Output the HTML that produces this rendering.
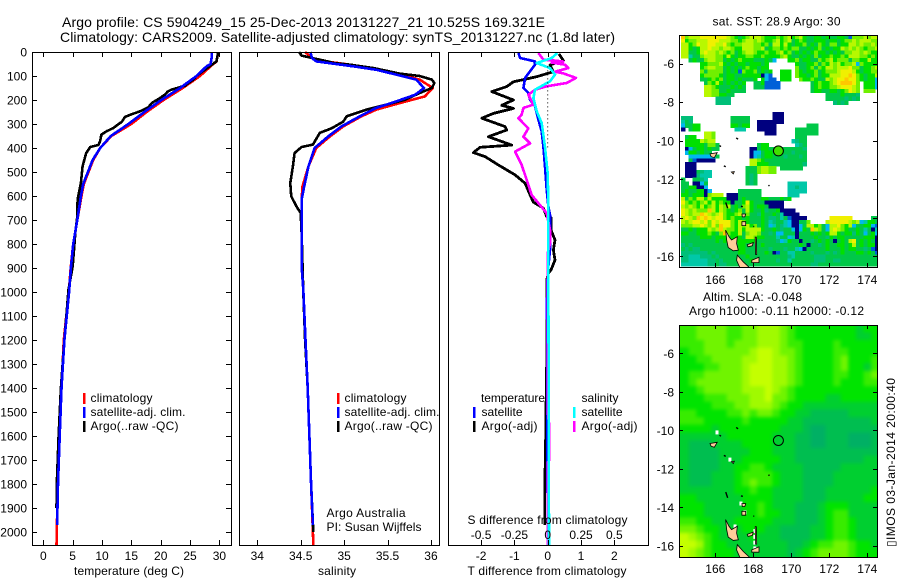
<!DOCTYPE html>
<html lang="en">
<head>
<meta charset="utf-8">
<title>Argo profile</title>
<style>
html,body{margin:0;padding:0;background:#fff;}
svg{display:block;}
text{font-family:"Liberation Sans",sans-serif;font-size:12px;fill:#000;}
.t{font-size:14px;}
</style>
</head>
<body>
<svg id="chart" width="900" height="580" viewBox="0 0 900 580" xmlns="http://www.w3.org/2000/svg">
<defs>
<filter id="soft" x="-5%" y="-5%" width="110%" height="110%" color-interpolation-filters="sRGB"><feGaussianBlur stdDeviation="1.8"/></filter>
<clipPath id="clip-sst"><rect x="680" y="35" width="197.5" height="232"/></clipPath>
<clipPath id="clip-sla"><rect x="680" y="325" width="197.5" height="232"/></clipPath>
</defs>
<text class="t" x="62" y="27" textLength="483">Argo profile: CS 5904249_15 25-Dec-2013 20131227_21 10.525S 169.321E</text>
<text class="t" x="60" y="42" textLength="555">Climatology: CARS2009. Satellite-adjusted climatology: synTS_20131227.nc (1.8d later)</text>

<g id="maps"></g>
<g id="lines"></g>
<g id="axes"></g>

<text x="74" y="575" textLength="110">temperature (deg C)</text>
<text x="318" y="575" textLength="38">salinity</text>
<text x="467.5" y="575" textLength="159">T difference from climatology</text>
<text x="467.5" y="524" textLength="160">S difference from climatology</text>

<g>
<rect x="83" y="393" width="2.5" height="11" fill="#f00"/>
<rect x="83" y="407" width="2.5" height="11" fill="#00f"/>
<rect x="83" y="421" width="2.5" height="11" fill="#000"/>
<text x="90.5" y="402" textLength="62">climatology</text>
<text x="90.5" y="416" textLength="95">satellite-adj. clim.</text>
<text x="90.5" y="430" textLength="88">Argo(..raw -QC)</text>
</g>
<g>
<rect x="337" y="393" width="2.5" height="11" fill="#f00"/>
<rect x="337" y="407" width="2.5" height="11" fill="#00f"/>
<rect x="337" y="421" width="2.5" height="11" fill="#000"/>
<text x="344.5" y="402" textLength="62">climatology</text>
<text x="344.5" y="416" textLength="95">satellite-adj. clim.</text>
<text x="344.5" y="430" textLength="88">Argo(..raw -QC)</text>
<text x="326.5" y="517" textLength="79">Argo Australia</text>
<text x="326.5" y="531" textLength="95">PI: Susan Wijffels</text>
</g>
<g>
<text x="481" y="402" textLength="64">temperature</text>
<text x="581.5" y="402" textLength="37">salinity</text>
<rect x="473" y="407" width="2.5" height="11" fill="#00f"/>
<rect x="473" y="421" width="2.5" height="11" fill="#000"/>
<rect x="573" y="407" width="2.5" height="11" fill="#0ff"/>
<rect x="573" y="421" width="2.5" height="11" fill="#f0f"/>
<text x="481.5" y="416" textLength="41">satellite</text>
<text x="481.5" y="430" textLength="56">Argo(-adj)</text>
<text x="581.5" y="416" textLength="41">satellite</text>
<text x="581.5" y="430" textLength="56">Argo(-adj)</text>
</g>

<text x="712.5" y="25.5" textLength="128">sat. SST: 28.9 Argo: 30</text>
<text x="703" y="301" textLength="99">Altim. SLA: -0.048</text>
<text x="689" y="315" textLength="175">Argo h1000: -0.11 h2000: -0.12</text>
<text transform="translate(895 547) rotate(-90)" x="0" y="0" textLength="169">▯IMOS 03-Jan-2014 20:00:40</text>
</svg>

<script>
/* ---------- profile data: depth (m) and values ---------- */
var tempClimDepth=[0,40,53,100,150,200,250,300,350,400,450,500,550,600,700,800,900,1000,1200,1400,1600,1800,2000,2054];
var tempClim=[29.8,29.5,28.8,26.7,23.75,20.5,17.6,15,11.6,9.7,8.5,7.7,6.9,6.5,5.8,5.1,4.66,4.35,3.5,3.1,2.75,2.45,2.3,2.25];
var tempSatDepth=[0,20,50,60,100,150,200,250,300,350,400,450,500,550,600,700,800,900,1000,1200,1400,1600,1800,1970];
var tempSat=[28.7,28.7,28.5,27.8,26.1,23.3,20.1,17.2,14.5,11.5,9.7,8.4,7.6,6.8,6.4,5.8,5.1,4.7,4.4,3.6,3.1,2.8,2.5,2.35];
var tempArgoDepth=[0,39,53,100,115,129,140,157,165,178,195,212,230,247,258,271,290,317,330,344,370,387,396,421,476,546,615,685,754,893,990,1200,1400,1600,1800,1900];
var tempArgo=[29.8,29.5,28.7,26.1,25.6,24.7,24.2,21.8,21.2,20.7,19.7,18.5,17.9,16.5,15.2,13.9,13.4,11.9,10.8,9.9,9.7,9.4,8,7.3,6.7,6.4,5.85,5.8,5.45,5,4.3,3.6,3,2.6,2.3,2.25];

var salClimDepth=[0,25,40,53,67,90,115,150,185,213,240,268,310,351,400,476,560,615,893,990,1200,1400,1600,1800,2000,2054];
var salClim=[34.55,34.63,34.8,35.07,35.34,35.6,35.87,36.02,35.93,35.64,35.37,35.2,34.99,34.84,34.68,34.59,34.52,34.51,34.51,34.53,34.555,34.58,34.6,34.62,34.64,34.645];
var salSatDepth=[0,25,39,60,74,94,115,150,178,206,233,268,310,351,400,476,560,615,893,990,1200,1400,1600,1800,1970];
var salSat=[34.61,34.63,34.68,35.11,35.37,35.6,35.83,35.92,35.82,35.6,35.37,35.18,34.97,34.82,34.66,34.59,34.54,34.51,34.51,34.53,34.555,34.58,34.6,34.62,34.64];
var salArgoDepth=[0,15,25,40,46,53,67,90,100,115,129,150,171,199,219,240,268,290,317,337,386,396,421,476,546,601,643,671,754,1000,1200,1400,1600,1800,2000];
var salArgo=[34.48,34.51,34.63,34.82,34.88,35.07,35.34,35.64,35.87,36.01,36.04,36.01,35.87,35.7,35.49,35.26,35.03,34.99,34.86,34.72,34.64,34.51,34.43,34.41,34.38,34.39,34.45,34.5,34.51,34.53,34.55,34.58,34.6,34.62,34.645];

var diffTArgoDepth=[8,36,54,82,103,124,144,165,200,222,235,256,276,311,325,353,388,397,419,436,471,512,547,596,626,651,686,690,742,783,825,867,908,922,950,1300,1500,1700,1800,1970];
var diffTArgo=[0.34,0.47,0.07,0.17,-0.33,-1.03,-1.23,-1.68,-1.03,-1.38,-1.03,-1.63,-1.98,-1.28,-1.23,-1.78,-1.08,-2.03,-2.23,-1.88,-1.48,-0.98,-0.68,-0.53,-0.43,-0.13,-0.03,0.1,0.1,0.22,0.17,0.22,0.1,0.02,-0.03,-0.03,-0.05,-0.07,-0.09,-0.09];
var diffTSatDepth=[4,25,39,53,108,150,171,199,226,282,331,396,478,575,644,686,825,922,1033,2054];
var diffTSat=[-0.88,-0.83,-0.38,-0.38,-0.68,-0.73,-0.58,-0.53,-0.38,-0.28,-0.18,-0.13,-0.08,-0.03,0.02,0.08,0.07,0,-0.02,0];
var diffSArgoDepth=[4,32,36,40,36,44,53,67,82,89,108,129,143,157,178,219,233,261,276,318,353,381,415,471,533,596,638,672,742,797,839,1033,1500,1560,1700,1710,2054];
var diffSArgo=[-0.07,-0.0325,0.055,0.1175,0.05,0.03,0.13,0.155,0.055,0.1175,0.2125,0.1425,-0.0075,-0.095,-0.145,-0.1075,-0.1825,-0.195,-0.22,-0.145,-0.1825,-0.1325,-0.245,-0.195,-0.1575,-0.12,-0.0575,-0.0075,0.0175,0.0175,0,0,0,0.0125,0.0125,0,0];
var diffSSatDepth=[4,25,46,67,94,122,157,192,247,296,396,506,644,1033,1500,2054];
var diffSSat=[0.0725,0.03,-0.0825,0.0175,0.055,0.0175,-0.095,-0.1075,-0.0825,-0.045,-0.02,0,0.005,0.005,0.008,0.01];

/* ---------- tick labels ---------- */
var depthTicks=[0,100,200,300,400,500,600,700,800,900,1000,1100,1200,1300,1400,1500,1600,1700,1800,1900,2000];
var tempTicks=[0,5,10,15,20,25,30];
var salTicks=[34,34.5,35,35.5,36];
var diffTTicks=[-2,-1,0,1,2];
var diffSTicks=[-0.5,-0.25,0,0.25,0.5];
var lonTicks=[166,168,170,172,174];
var latTicks=[-6,-8,-10,-12,-14,-16];

/* ---------- satellite SST heatmap: colour class per 0.2 degree cell ('.' = no data) ---------- */
var sstRows=[
"a788899999 9987656788 8766676786 7865566565 5665177787 88",
"9677888999 8887767887 8766786785 6765566656 6567787888 77",
"8867988998 8976778887 7675886865 6675657657 7566887877 87",
"8865688988 7887668887 7856776767 7556567565 6687878767 78",
"8855689887 8767567887 6676678675 6565676656 5657788787 66",
"8835578887 7686566776 6766667865 5656575667 6676888776 76",
"..56557887 7565676665 55652...66 7566557678 6777577668 66",
".....66777 8656566566 656....... 6556675768 7867782766 66",
".....67887 7565656766 566....... 7556757688 7888977566 78",
".....75777 7565617667 5656..666. 7656675677 7899986566 77",
".....67777 6566556666 6021..666. 7665675668 8899a97656 68",
".....55676 7566565556 .6211.666. .766765587 899a997656 62",
"......5768 6565656..5 561111.... ....567667 89aaa97.66 62",
"......8876 5556565..5 551111.... ....567667 7899987.66 62",
"......8877 5565555... .......... ....566556 6567987.77 7.",
"......8877 6655...... .......... ........55 5565554... ..",
".........4 444....... .......... ........55 5554545... ..",
".........4 444....... .......... .......... 4545...... ..",
".......... .......... .......... .......... .......... ..",
".......... .......... .......... .......... .......... ..",
".......... .......... ....000... .......... .......... ..",
"444....... ...55555.. ....000... .......... .......... ..",
"354....... ...55555.. 0000000... .......... .......... ..",
"25566..... ...66566.. 00000..... ...555.... .......... ..",
"0.566..... ....333... 00000..... 555555.... .......... ..",
"......887. .......... ..000..... 555555.... .......... ..",
".566..887. .......... .......... 555....... .......... ..",
".66668788. .......... .........3 455....... .......... ..",
".666665775 .......... 566....... 345....... .......... ..",
".025665655 ........00 5665555555 554....... .......... ..",
".2665655.. ........02 2566555554 555....... .......... ..",
"..22222225 ........02 3566555455 545....... .......... ..",
"..5100000. ........88 7655555555 555....... .......... ..",
".000...... ........88 6665555555 554....... .......... ..",
".000...... .......555 78877.5555 55........ .......... ..",
".0005433.. .......555 78877..... .......... .......... ..",
".0004333.. .......545 .......... .......... .......... ..",
"5..5543... .......545 .......... .......... .......... ..",
"55.0025... .......545 ........33 333....... .......... ..",
"5566002... .......... ........33 433....... .......... ..",
"56556602.. .....55555 5.......33 333....... .......... ..",
"6656660788 8.00055555 5.......33 3......... .......... ..",
"8576886866 6600056555 566555656. .......... .......... ..",
"9767678686 7660556965 5500000... .......... .......... ..",
"8787686786 8785657865 6650000... .......... .......... ..",
"9878777a86 8765675865 5645560000 .......... .......... ..",
"98788a9878 9766785755 4655653000 0......... .......... ..",
"8987a9a989 9767665655 5654453510 000......9 99999..... 55",
"8789989798 9997687655 5653455320 0557....89 9999878236 65",
"7778898797 a997687867 5652354320 0258867528 8976825566 21",
"5565666878 a877686888 8655654552 0265a87528 9876556535 03",
"6655666765 7a76685788 7554522555 0555656568 8656646525 62",
"5555566656 6656665887 6655535523 0555565546 5665555566 60",
"5555555556 5656666666 5555542365 5055456565 0565895656 50",
"4545555555 5555566555 5655555555 5650554565 5665685656 60",
"5454455555 5555566555 5554555455 3205555565 5565665545 10",
"4444444545 5555566555 5565015533 5555455545 4565556656 51",
"4433344454 5555555655 5555555543 5555544455 5555555555 55",
"4433333445 4555555565 5555545535 5555544455 4455555555 55",
"3333333445 4455555555 5555555555 5555445555 5555555555 55"
];

/* ---------- altimeter SLA heatmap: class per 0.4 degree cell ---------- */
var slaRows=[
"44555 54455 66654 33333 33323 3",
"44555 54455 66654 33333 33322 3",
"44455 54555 66654 43333 43333 3",
"34455 55556 77655 43333 44333 3",
"33445 55566 77665 43333 45333 4",
"33344 55567 77665 43333 45332 4",
"34455 55567 77665 43333 44334 5",
"34555 55567 77665 43333 43334 4",
"33455 55566 67654 33333 33333 3",
"33344 45556 67554 33332 23333 3",
"33334 44556 66543 32222 22222 2",
"44333 34454 55433 22111 11222 2",
"44433 33343 33332 21111 11111 2",
"33332 33333 33322 21001 11111 1",
"22222 23333 33222 11001 11000 1",
"21112 22233 33222 11001 11000 1",
"21111 22223 33222 11111 11111 1",
"21111 22233 33322 11111 11112 2",
"21111 22334 43222 21111 12222 2",
"21112 22344 44322 21111 22222 2",
"21112 22345 44322 21111 22222 2",
"22222 22334 33222 21112 22222 3",
"33222 22233 33222 21112 22223 3",
"33322 22233 43222 11123 33222 2",
"33322 22233 43322 11123 44222 2",
"44332 22333 33222 11123 44322 2",
"55433 22233 32211 11223 44322 2",
"76543 22223 22211 11223 44322 2",
"77643 32222 22221 12344 55433 2",
"76543 33222 22221 23455 55433 3"
];

/* ---------- Argo float position and islands (lon, lat) ---------- */
var floatLon=169.321;
var floatLat=-10.525;
var islandSanto=[[166.54,-14.63],[166.72,-14.98],[166.86,-15.15],[167.16,-14.98],[167.12,-15.33],[167.21,-15.68],[166.95,-15.71],[166.68,-15.54],[166.6,-15.16]];
var islandMalekula=[[167.16,-15.93],[167.47,-16.28],[167.82,-16.6],[167.3,-16.6],[167.12,-16.2]];
var islandPentecost=[[168.1,-15.0],[168.16,-15.0],[168.18,-15.9],[168.12,-15.9]];
var islandAmbae=[[167.68,-15.4],[168.0,-15.28],[167.95,-15.45],[167.72,-15.5]];
var islandAmbrym=[[167.92,-16.2],[168.3,-16.04],[168.3,-16.32],[167.92,-16.32]];
var islandSantaCruz=[[165.72,-10.68],[166.1,-10.62],[165.95,-10.88],[165.78,-10.82]];
var islandVanikoro=[[166.85,-11.62],[167.0,-11.6],[166.95,-11.72]];
var islandGaua=[[167.4,-14.2],[167.6,-14.2],[167.6,-14.4],[167.4,-14.4]];
var islandVanuaLava=[[167.4,-13.8],[167.6,-13.8],[167.55,-13.95],[167.42,-13.95]];
var reefMarks=[[167.1,-9.85,167.2,-9.92],[166.22,-10.25,166.3,-10.3],[166.45,-11.3,166.55,-11.35],[168.8,-12.3,168.85,-12.35],[166.55,-13.2,166.65,-13.5],[167.35,-13.4,167.45,-13.42],[168.0,-14.45,168.05,-14.45]];
var slaWhiteLon=[166.09,166.77,167.35,167.56,167.04,168.08,168.08,168.08,168.08];
var slaWhiteLat=[-10.08,-11.49,-13.77,-14.23,-14.96,-15.2,-15.5,-15.8,-16.1];

var NS='http://www.w3.org/2000/svg';
var mapsG=document.getElementById('maps');
var linesG=document.getElementById('lines');
var axesG=document.getElementById('axes');

/* ---------- axis functions ---------- */
function yDepth(d){return 52+0.24*d;}
function xTemp(t){return 43.3+5.87*t;}
function xSal(s){return 257.3+86.83*(s-34);}
function xDiffT(v){return 547.7+33.3*v;}
function xDiffS(v){return 547.7+133.2*v;}
function xLon(l){return 715.3+19*(l-166);}
function ySst(l){return 63.7+19.27*(-6-l);}
function ySla(l){return 353.3+19.27*(-6-l);}

function svgEl(tag,parent){var e=document.createElementNS(NS,tag);parent.appendChild(e);return e;}

/* ---------- maps ---------- */
function sstColor(c){
  var pal={'0':'#00007f','1':'#0060d8','2':'#00b8f0','3':'#00c8a8','4':'#00bf78','5':'#00c848','6':'#00e000','7':'#70f000','8':'#b8f800','9':'#f0f000','a':'#ffc800'};
  return pal[c];
}
function slaColor(c){
  var pal={'0':'#00b064','1':'#00be50','2':'#00cf30','3':'#00e400','4':'#38ec00','5':'#70f400','6':'#a0fa00','7':'#c4ff00'};
  return pal[c];
}
var sstG=svgEl('g',mapsG);


sstG.setAttribute('clip-path','url(#clip-sst)');
sstG.setAttribute('shape-rendering','crispEdges');
sstRows.forEach(function(row,r){
  var s=row.replace(/ /g,'');
  for(var c=0;c<s.length;c++){
    if(s[c]==='.')continue;
    var lonA=164.2+c*0.2, latA=-4.51-r*0.2;
    var rc=svgEl('rect',sstG);
    
    
    rc.setAttribute('x',xLon(lonA));
    rc.setAttribute('y',ySst(latA));
    rc.setAttribute('width',xLon(lonA+0.2)-xLon(lonA)+0.4);
    rc.setAttribute('height',ySst(latA-0.2)-ySst(latA)+0.4);
    rc.setAttribute('fill',sstColor(s[c]));
  }
});
var slaClip=svgEl('g',mapsG);


slaClip.setAttribute('clip-path','url(#clip-sla)');
var slaG=svgEl('g',slaClip);


slaG.setAttribute('filter','url(#soft)');
slaRows.forEach(function(row,r){
  var s=row.replace(/ /g,'');
  for(var c=0;c<s.length;c++){
    var lonA=164.2+c*0.4, latA=-4.51-r*0.4;
    var x0=xLon(lonA), y0=ySla(latA);
    var x1=xLon(lonA+0.4), y1=ySla(latA-0.4);
    if(c===0)x0-=10;
    if(c===s.length-1)x1+=10;
    if(r===0)y0-=10;
    if(r===slaRows.length-1)y1+=10;
    var rc=svgEl('rect',slaG);
    
    
    rc.setAttribute('x',x0);
    rc.setAttribute('y',y0);
    rc.setAttribute('width',x1-x0+0.4);
    rc.setAttribute('height',y1-y0+0.4);
    rc.setAttribute('fill',slaColor(s[c]));
  }
});
slaWhiteLon.forEach(function(lon,i){
  var w=svgEl('rect',mapsG);
  
  
  w.setAttribute('x',xLon(lon)-1.5);
  w.setAttribute('y',ySla(slaWhiteLat[i])-1.5);
  w.setAttribute('width',3);
  w.setAttribute('height',4);
  w.setAttribute('fill','#fff');
});
function drawIslands(yFn,clipId){
  var g=svgEl('g',mapsG);
  
  
  g.setAttribute('clip-path','url(#'+clipId+')');
  [islandSanto,islandMalekula,islandPentecost,islandAmbae,islandAmbrym,islandSantaCruz,islandVanikoro,islandGaua,islandVanuaLava].forEach(function(poly){
    var p=svgEl('polygon',g);
    
    
    p.setAttribute('points',poly.map(function(q){return xLon(q[0]).toFixed(1)+','+yFn(q[1]).toFixed(1);}).join(' '));
    p.setAttribute('fill','#ffcc99');
    p.setAttribute('stroke','#000');
    p.setAttribute('stroke-width','0.8');
  });
  reefMarks.forEach(function(m){
    var l=svgEl('line',g);
    
    
    l.setAttribute('x1',xLon(m[0]));l.setAttribute('y1',yFn(m[1]));
    l.setAttribute('x2',xLon(m[2]));l.setAttribute('y2',yFn(m[3]));
    l.setAttribute('stroke','#000');l.setAttribute('stroke-width','1.4');
  });
}
drawIslands(ySst,'clip-sst');
drawIslands(ySla,'clip-sla');
var c1=svgEl('circle',mapsG);


c1.setAttribute('cx',xLon(floatLon));c1.setAttribute('cy',ySst(floatLat));c1.setAttribute('r',5);
c1.setAttribute('fill','#40e000');c1.setAttribute('stroke','#000');
var c2=svgEl('circle',mapsG);


c2.setAttribute('cx',xLon(floatLon));c2.setAttribute('cy',ySla(floatLat));c2.setAttribute('r',5);
c2.setAttribute('fill','none');c2.setAttribute('stroke','#000');

/* ---------- profile lines ---------- */
function drawLine(name,xFn,vals,depths,color,width){
  var p=svgEl('polyline',linesG);
  
  
  p.setAttribute('points',vals.map(function(v,i){return xFn(v).toFixed(1)+','+yDepth(depths[i]).toFixed(1);}).join(' '));
  p.setAttribute('fill','none');
  p.setAttribute('stroke',color);
  p.setAttribute('stroke-width',width);
  p.setAttribute('stroke-linejoin','round');
  p.setAttribute('shape-rendering','crispEdges');
}
drawLine('temperature-climatology-line',xTemp,tempClim,tempClimDepth,'#f00',2.6);
drawLine('temperature-argo-line',xTemp,tempArgo,tempArgoDepth,'#000',2.6);
drawLine('temperature-satellite-line',xTemp,tempSat,tempSatDepth,'#00f',2.6);
drawLine('salinity-climatology-line',xSal,salClim,salClimDepth,'#f00',2.6);
drawLine('salinity-argo-line',xSal,salArgo,salArgoDepth,'#000',2.6);
drawLine('salinity-satellite-line',xSal,salSat,salSatDepth,'#00f',2.6);
drawLine('t-difference-argo-line',xDiffT,diffTArgo,diffTArgoDepth,'#000',2.8);
drawLine('t-difference-satellite-line',xDiffT,diffTSat,diffTSatDepth,'#00f',2.6);
drawLine('s-difference-argo-line',xDiffS,diffSArgo,diffSArgoDepth,'#f0f',2.6);
drawLine('s-difference-satellite-line',xDiffS,diffSSat,diffSSatDepth,'#0ff',2.6);
var zeroLine=svgEl('line',linesG);


zeroLine.setAttribute('x1',xDiffT(0));zeroLine.setAttribute('x2',xDiffT(0));
zeroLine.setAttribute('y1',yDepth(60));zeroLine.setAttribute('y2',yDepth(400));
zeroLine.setAttribute('stroke','#000');zeroLine.setAttribute('stroke-dasharray','1 3');

/* ---------- axes ---------- */
function frame(name,x0,y0,x1,y1){
  var r=svgEl('rect',axesG);
  
  
  r.setAttribute('x',x0+0.5);r.setAttribute('y',y0+0.5);
  r.setAttribute('width',x1-x0);r.setAttribute('height',y1-y0);
  r.setAttribute('fill','none');r.setAttribute('stroke','#000');
  r.setAttribute('shape-rendering','crispEdges');
}
function tickMark(x1,y1,x2,y2){
  var l=svgEl('line',axesG);
  
  
  l.setAttribute('x1',x1);l.setAttribute('y1',y1);l.setAttribute('x2',x2);l.setAttribute('y2',y2);
  l.setAttribute('stroke','#000');l.setAttribute('shape-rendering','crispEdges');
}
function tickLabel(txt,x,y,anchor){
  var t=svgEl('text',axesG);
  
  
  t.setAttribute('x',x);t.setAttribute('y',y);t.setAttribute('text-anchor',anchor);
  t.textContent=txt;
}
function xAxisTicks(vals,fn,top,bottom,labelY,len){
  vals.forEach(function(v){
    var x=Math.round(fn(v))+0.5;
    tickMark(x,top,x,top+len);
    tickMark(x,bottom,x,bottom-len);
    if(labelY)tickLabel(String(v),fn(v),labelY,'middle');
  });
}
frame('temperature-plot-frame',32,52,231,545);
frame('salinity-plot-frame',239,52,439,545);
frame('difference-plot-frame',448,52,648,545);
frame('sst-map-frame',679,35,877,267);
frame('sla-map-frame',679,325,877,557);
depthTicks.forEach(function(d){
  var y=Math.round(yDepth(d))+0.5;
  tickMark(32,y,37,y);
  tickMark(231,y,226,y);
  tickLabel(String(d),27,yDepth(d)+4.5,'end');
});
xAxisTicks(tempTicks,xTemp,52,545,560,5);
xAxisTicks(salTicks,xSal,52,545,560,5);
xAxisTicks(diffTTicks,xDiffT,52,545,560,5);
diffSTicks.forEach(function(v){tickLabel(String(v),xDiffS(v),539,'middle');});
xAxisTicks(lonTicks,xLon,35,267,284,4);
xAxisTicks(lonTicks,xLon,325,557,573,4);
function latAxis(yFn){
  latTicks.forEach(function(v){
    var y=Math.round(yFn(v))+0.5;
    tickMark(679,y,683,y);
    tickMark(877,y,873,y);
    tickLabel(String(v),674,yFn(v)+4.5,'end');
  });
}
latAxis(ySst);
latAxis(ySla);
</script>
</body>
</html>
